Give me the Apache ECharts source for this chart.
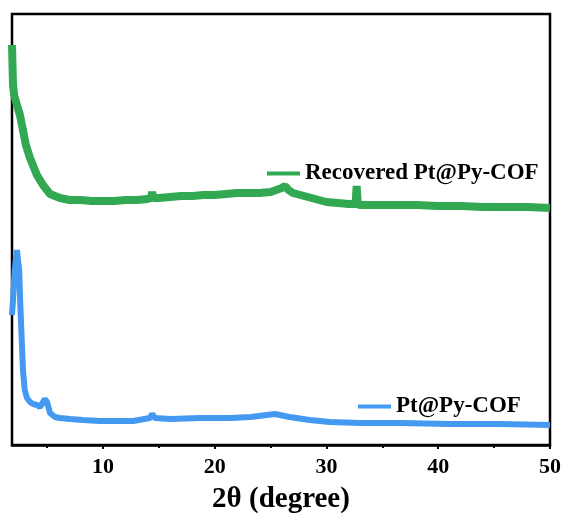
<!DOCTYPE html>
<html>
<head>
<meta charset="utf-8">
<script src="https://cdn.jsdelivr.net/npm/echarts@6/dist/echarts.min.js"></script>
<style>
  html, body { margin: 0; padding: 0; background: #fff; }
  #chart { width: 566px; height: 518px; }
</style>
</head>
<body>
<div id="chart"></div>
<script>
// 2θ values and intensity (a.u.)
var recoveredTheta = [1.86, 1.95, 2.05, 2.3, 2.57, 2.84, 3.1, 3.47, 3.8, 4.09, 4.63, 5.26, 6.15, 7, 8, 9, 10, 11, 12, 13, 14, 14.3, 14.4, 14.5, 15, 16, 17, 18, 19, 20, 21, 22, 23, 24, 25, 25.5, 26, 26.3, 26.6, 27, 28, 29, 30, 31, 32, 32.6, 32.7, 32.8, 33, 34, 35, 36, 38, 40, 42, 44, 46, 48, 50];
var recoveredInt = [400, 360, 350, 340, 330, 315, 300, 287, 278, 270, 260, 251, 247, 245, 245, 244, 244, 244, 245, 245, 246, 247, 253, 247, 247, 248, 249, 249, 250, 250, 251, 252, 252, 252, 253, 255, 257, 259, 255, 252, 249, 246, 243, 242, 241, 241, 259, 241, 240, 240, 240, 240, 240, 239, 239, 238, 238, 238, 237];

var pyTheta = [1.86, 1.95, 2.1, 2.3, 2.4, 2.5, 2.57, 2.66, 2.75, 2.84, 3.0, 3.2, 3.47, 3.74, 4.1, 4.36, 4.6, 4.8, 5.0, 5.26, 5.7, 6.15, 7.05, 8.2, 9.7, 11.5, 12.7, 14.2, 14.4, 14.65, 16, 18.7, 21.4, 23.2, 25.4, 26.7, 28.5, 30.3, 33, 36.6, 41, 45.5, 50];
var pyInt = [130, 145, 175, 195, 193, 175, 150, 125, 100, 75, 55, 47, 43, 41, 40, 38, 42, 46, 43, 32, 28, 27, 26, 25, 24, 24, 24, 27, 31, 27, 26, 27, 27, 28, 31, 28, 25, 23, 22, 22, 21, 21, 20];

var majorTicks = [10, 20, 30, 40, 50];
var minorTicks = [5, 15, 25, 35, 45];

function pairs(xs, ys) {
    var out = [];
    for (var i = 0; i < xs.length; i++) out.push([xs[i], ys[i]]);
    return out;
}

var serif = 'Liberation Serif';
var myChart = echarts.init(document.getElementById('chart'));
var option = {
    animation: false,
    grid: {
        left: 12, right: 16, top: 14, bottom: 73,
        outerBoundsMode: 'none',
        show: true,
        borderColor: '#000',
        borderWidth: 2.5
    },
    legend: [
        {
            data: ['Recovered Pt@Py-COF'],
            left: 262, top: 157,
            icon: 'rect', itemWidth: 33, itemHeight: 4, itemGap: 5,
            selectedMode: false,
            textStyle: { fontFamily: serif, fontWeight: 'bold', fontSize: 23, color: '#000' }
        },
        {
            data: ['Pt@Py-COF'],
            left: 353, top: 390,
            icon: 'rect', itemWidth: 33, itemHeight: 4, itemGap: 5,
            selectedMode: false,
            textStyle: { fontFamily: serif, fontWeight: 'bold', fontSize: 23, color: '#000' }
        }
    ],
    xAxis: [
        {
            type: 'value',
            min: 1.86, max: 50,
            name: '2θ (degree)',
            nameLocation: 'middle',
            nameGap: 40,
            nameTextStyle: { fontFamily: serif, fontWeight: 'bold', fontSize: 29, color: '#000' },
            axisLine: { lineStyle: { color: '#000', width: 2.5 } },
            axisTick: { length: 4, lineStyle: { color: '#000', width: 2 }, customValues: majorTicks },
            axisLabel: { customValues: majorTicks, margin: 11, fontFamily: serif, fontWeight: 'bold', fontSize: 22, color: '#000' },
            splitLine: { show: false }
        },
        {
            type: 'value',
            min: 1.86, max: 50,
            position: 'bottom',
            axisLine: { show: false },
            axisTick: { length: 3, lineStyle: { color: '#000', width: 2 }, customValues: minorTicks },
            axisLabel: { show: false },
            splitLine: { show: false }
        }
    ],
    yAxis: {
        type: 'value',
        min: 0, max: 431,
        show: false,
        splitLine: { show: false }
    },
    series: [
        {
            name: 'Recovered Pt@Py-COF',
            type: 'line',
            showSymbol: false,
            color: '#33a852',
            lineStyle: { width: 8, color: '#33a852' },
            data: pairs(recoveredTheta, recoveredInt)
        },
        {
            name: 'Pt@Py-COF',
            type: 'line',
            showSymbol: false,
            color: '#4499f0',
            lineStyle: { width: 6, color: '#4499f0' },
            data: pairs(pyTheta, pyInt)
        }
    ]
};
myChart.setOption(option);
</script>
</body>
</html>
